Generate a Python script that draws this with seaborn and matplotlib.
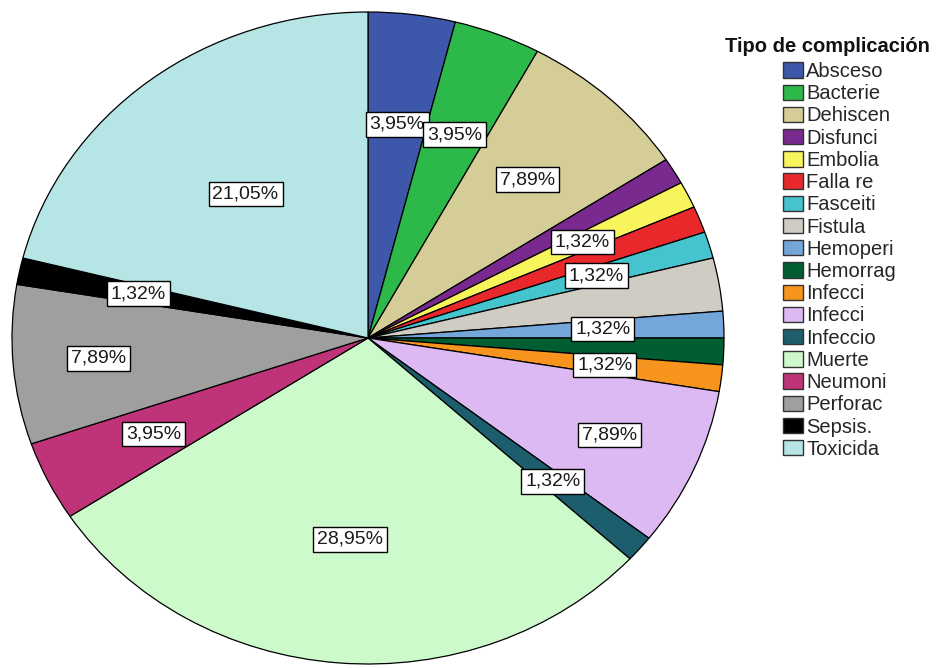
import numpy as np
import matplotlib.pyplot as plt
import seaborn as sns

sns.set_theme(style="white")
plt.rcParams['font.family'] = ['Liberation Sans', 'DejaVu Sans']

# counts per complication type (n = 76)
categories = ["Absceso", "Bacterie", "Dehiscen", "Disfunci", "Embolia", "Falla re",
              "Fasceiti", "Fistula", "Hemoperi", "Hemorrag", "Infecci", "Infecci",
              "Infeccio", "Muerte", "Neumoni", "Perforac", "Sepsis.", "Toxicida"]
counts = [3, 3, 6, 1, 1, 1, 1, 2, 1, 1, 1, 6, 1, 22, 3, 6, 1, 16]
colors = ["#3D57AB", "#2DB84A", "#D4CD98", "#7A2A8E", "#F8F45C", "#E8282B",
          "#45C4CE", "#CFCCC3", "#74A6DA", "#005E32", "#F7941E", "#DCB9F2",
          "#1C5E6E", "#CCFACB", "#BF3479", "#9F9F9F", "#000000", "#B5E5E5"]

# which slices get a percentage box, and how far out (fraction of radius)
label_radius = {0: 0.66, 1: 0.67, 2: 0.66, 4: 0.67, 6: 0.67, 8: 0.66,
                10: 0.67, 11: 0.74, 12: 0.68, 13: 0.62, 14: 0.67,
                15: 0.76, 16: 0.66, 17: 0.56}

fig = plt.figure(figsize=(9.37, 6.68), dpi=100)
W, H = 937, 668
cx, cy, rx, ry = 368, 338, 356, 326   # the original pie is slightly stretched
ax = fig.add_axes([(cx - rx) / W, (H - cy - ry) / H, 2 * rx / W, 2 * ry / H])

wedges, _ = ax.pie(counts, colors=colors, startangle=90, counterclock=False,
                   wedgeprops=dict(edgecolor="black", linewidth=0.9))
ax.set_aspect("auto")
ax.set_xlim(-1, 1)
ax.set_ylim(-1, 1)
ax.axis("off")

total = sum(counts)
for i, w in enumerate(wedges):
    if i not in label_radius:
        continue
    ang = np.deg2rad((w.theta1 + w.theta2) / 2)
    rr = label_radius[i]
    pct = f"{100 * counts[i] / total:.2f}%".replace(".", ",")
    ax.text(rr * np.cos(ang), rr * np.sin(ang), pct, ha="center", va="center",
            fontsize=14, color="#1a1a1a",
            bbox=dict(boxstyle="square,pad=0.2", fc="white", ec="black", lw=1.0))

fig.text(827 / W, 1 - 46 / H, "Tipo de complicación", ha="center", va="center",
         fontsize=14.5, fontweight="bold", color="#111111")
leg = fig.legend(wedges, categories, loc="upper left",
                 bbox_to_anchor=(783 / W, 1 - 62 / H),
                 frameon=False, fontsize=14.5, handlelength=1.0, handleheight=0.8,
                 handletextpad=0.15, labelspacing=0.16, borderaxespad=0, borderpad=0)
for h in leg.legend_handles:
    h.set_edgecolor("#333333")
    h.set_linewidth(1.0)

fig.savefig("out.png", dpi=100)
